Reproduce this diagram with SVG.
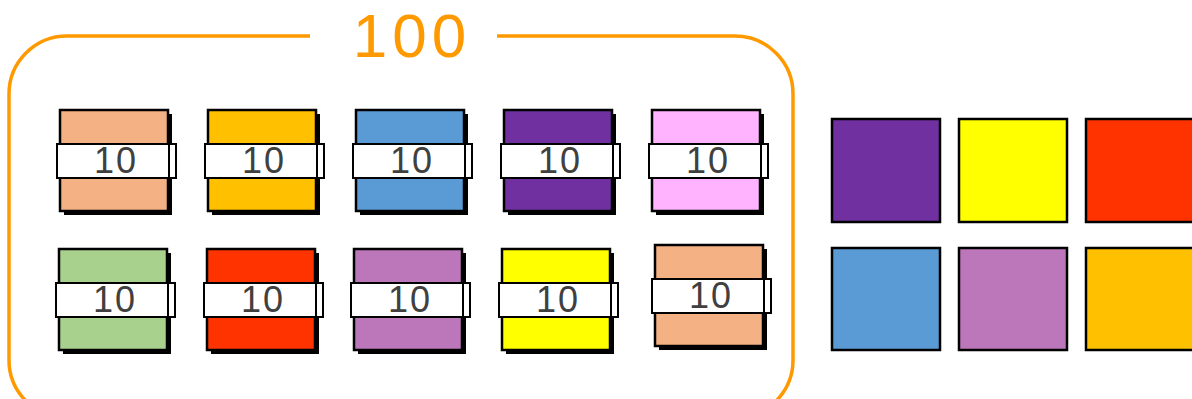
<svg xmlns="http://www.w3.org/2000/svg" width="1192" height="399" viewBox="0 0 1192 399">
<defs>
<style>
.sh{fill:#000}
.sq{stroke:#000;stroke-width:2.5}
.band{fill:#fff;stroke:#000;stroke-width:2}
.lbl{font-family:"Liberation Sans",Arial,sans-serif;font-size:36px;fill:#404040;text-anchor:middle;letter-spacing:2px}
.big{font-family:"Liberation Sans",Arial,sans-serif;font-size:62px;fill:#FF9900;text-anchor:middle;letter-spacing:5px}
.frame{fill:none;stroke:#FF9900;stroke-width:3.5}
</style>
<g id="tile">
<rect class="sh" x="4" y="4" width="108" height="101"/>
<rect class="sq" x="0" y="0" width="108" height="101"/>
<rect class="band" x="-3" y="34" width="119" height="34"/>
<line x1="109" y1="34" x2="109" y2="68" stroke="#000" stroke-width="2"/>
<text class="lbl" x="56" y="63">10</text>
</g>
</defs>
<g id="frame">
<path class="frame" d="M310 36 H67 A58 58 0 0 0 9 94 V360 A58 58 0 0 0 67 418 H735 A58 58 0 0 0 793 360 V94 A58 58 0 0 0 735 36 H497"/>
<text class="big" x="412" y="57">100</text>
</g>
<g id="t1"><use href="#tile" x="60" y="110" fill="#F4B183"/></g>
<g id="t2"><use href="#tile" x="208" y="110" fill="#FFC000"/></g>
<g id="t3"><use href="#tile" x="356" y="110" fill="#5B9BD5"/></g>
<g id="t4"><use href="#tile" x="504" y="110" fill="#7030A0"/></g>
<g id="t5"><use href="#tile" x="652" y="110" fill="#FFB3FF"/></g>
<g id="t6"><use href="#tile" x="59" y="249" fill="#A9D18E"/></g>
<g id="t7"><use href="#tile" x="207" y="249" fill="#FF3300"/></g>
<g id="t8"><use href="#tile" x="354" y="249" fill="#BC76BA"/></g>
<g id="t9"><use href="#tile" x="502" y="249" fill="#FFFF00"/></g>
<g id="t10"><use href="#tile" x="655" y="245" fill="#F4B183"/></g>
<g id="s1"><rect class="sq" x="832" y="119" width="108" height="103" fill="#7030A0"/></g>
<g id="s2"><rect class="sq" x="959" y="119" width="108" height="103" fill="#FFFF00"/></g>
<g id="s3"><rect class="sq" x="1086" y="119" width="108" height="103" fill="#FF3300"/></g>
<g id="s4"><rect class="sq" x="832" y="248" width="108" height="102" fill="#5B9BD5"/></g>
<g id="s5"><rect class="sq" x="959" y="248" width="108" height="102" fill="#BC76BA"/></g>
<g id="s6"><rect class="sq" x="1086" y="248" width="108" height="102" fill="#FFC000"/></g>
<g id="connectors"></g>
</svg>
